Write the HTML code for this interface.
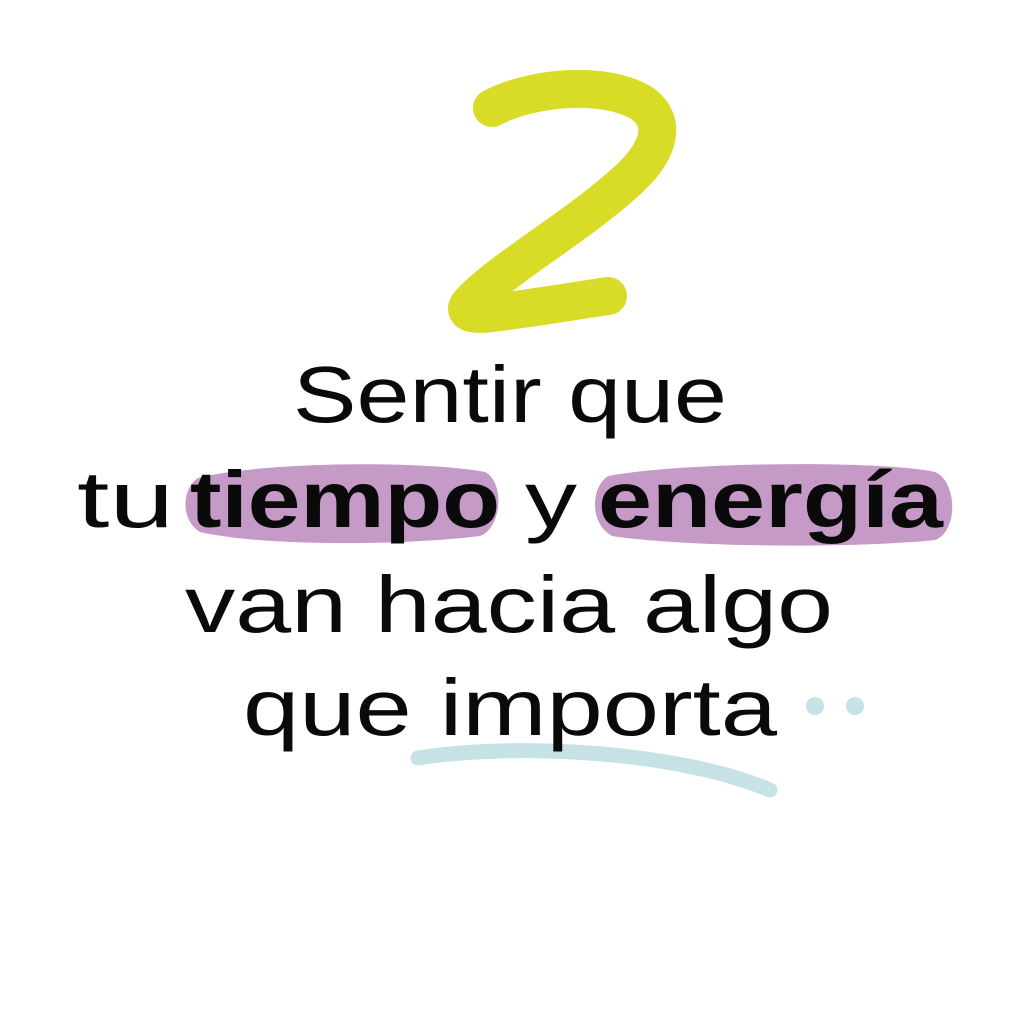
<!DOCTYPE html>
<html><head><meta charset="utf-8"><style>
html,body{margin:0;padding:0;background:#fff;width:1024px;height:1024px;overflow:hidden}
svg{display:block}
text{font-family:"Liberation Sans",sans-serif;fill:#0a0a0a}
</style></head><body>
<svg width="1024" height="1024" viewBox="0 0 1024 1024" xmlns="http://www.w3.org/2000/svg">
<rect width="1024" height="1024" fill="#fff"/>
<!-- the 2 -->
<path d="M492,108 C530,88 600,80 640,102 C668,120 660,150 630,178 C580,225 500,270 470,303 C462,312 470,316 492,313 C540,307 580,300 608,296" fill="none" stroke="#d9dc26" stroke-width="38" stroke-linecap="round" stroke-linejoin="round"/>
<!-- highlights -->
<path d="M198,478 C260,462 420,460 485,472 C505,482 502,528 480,536 C400,546 260,546 200,532 C180,520 182,488 198,478 Z" fill="#c69ac6"/>
<path d="M608,476 C680,462 880,460 935,472 C958,482 958,532 935,540 C860,548 690,548 612,536 C590,524 590,488 608,476 Z" fill="#c69ac6"/>
<!-- underline -->
<path d="M418,758 C520,742 680,752 770,790" fill="none" stroke="#c7e2e6" stroke-width="15" stroke-linecap="round"/>
<circle cx="815" cy="706" r="9" fill="#c7e2e6"/>
<circle cx="855" cy="706" r="9" fill="#c7e2e6"/>
<!-- text -->
<text x="293" y="422" font-size="80" textLength="434" lengthAdjust="spacingAndGlyphs">Sentir que</text>
<text x="77" y="527" font-size="80" textLength="97" lengthAdjust="spacingAndGlyphs">tu</text>
<text x="190" y="527" font-size="80" font-weight="bold" textLength="310" lengthAdjust="spacingAndGlyphs">tiempo</text>
<text x="525" y="527" font-size="80" textLength="52" lengthAdjust="spacingAndGlyphs">y</text>
<text x="598" y="527" font-size="80" font-weight="bold" textLength="345" lengthAdjust="spacingAndGlyphs">energía</text>
<text x="185" y="632" font-size="80" textLength="648" lengthAdjust="spacingAndGlyphs">van hacia algo</text>
<text x="243" y="735" font-size="80" textLength="534" lengthAdjust="spacingAndGlyphs">que importa</text>
</svg>
</body></html>
